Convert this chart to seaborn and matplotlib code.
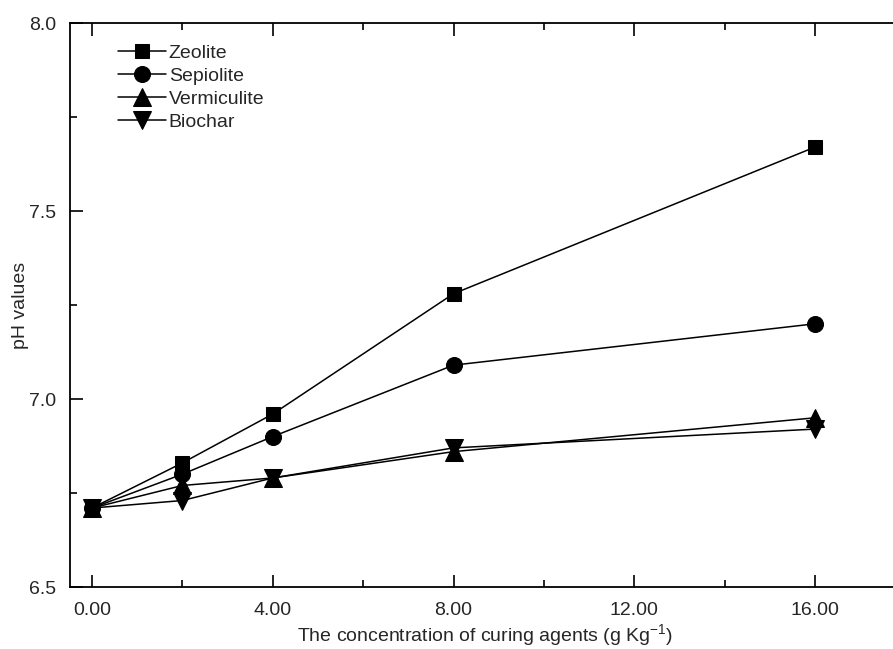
import matplotlib
matplotlib.use("Agg")
import matplotlib.pyplot as plt
import seaborn as sns
import pandas as pd
from matplotlib.ticker import MultipleLocator, FixedLocator

concentration = [0, 2, 4, 8, 16]
zeolite = [6.71, 6.83, 6.96, 7.28, 7.67]
sepiolite = [6.71, 6.80, 6.90, 7.09, 7.20]
vermiculite = [6.71, 6.77, 6.79, 6.86, 6.95]
biochar = [6.71, 6.73, 6.79, 6.87, 6.92]
series_names = ["Zeolite", "Sepiolite", "Vermiculite", "Biochar"]
x_ticks = [0, 4, 8, 12, 16]
x_tick_labels = ["0.00", "4.00", "8.00", "12.00", "16.00"]

sns.set_theme(style="ticks")
plt.rcParams["font.family"] = ["Liberation Sans", "DejaVu Sans"]
plt.rcParams["mathtext.fontset"] = "custom"
plt.rcParams["mathtext.rm"] = "Liberation Sans"

frames = []
for name, vals in zip(series_names, [zeolite, sepiolite, vermiculite, biochar]):
    frames.append(pd.DataFrame({"x": concentration, "y": vals, "agent": name}))
df = pd.concat(frames, ignore_index=True)

W, H = 893, 649
fig = plt.figure(figsize=(W / 100, H / 100), dpi=100)
left_px, right_px, top_px, bottom_px = 70, 900, 23, 587
ax = fig.add_axes([left_px / W, 1 - bottom_px / H, (right_px - left_px) / W, (bottom_px - top_px) / H])

markers = {"Zeolite": "s", "Sepiolite": "o", "Vermiculite": "^", "Biochar": "v"}
palette = {n: "black" for n in series_names}
sns.lineplot(data=df, x="x", y="y", hue="agent", style="agent", markers=markers,
             dashes=False, palette=palette, ax=ax, linewidth=1.1, markersize=10,
             markeredgecolor="black", legend=True)

msize = {"s": 10.5, "o": 11.5, "^": 12.5, "v": 12.5}
for i, ln in enumerate(ax.lines):
    m = ln.get_marker()
    if m in msize:
        ln.set_markersize(msize[m])
    ln.set_zorder(3 + i)

ppu = (815 - 92) / 16
ax.set_xlim((left_px - 92) / ppu, (right_px - 92) / ppu)
ax.set_ylim(6.5, 8.0)

ax.xaxis.set_major_locator(FixedLocator(x_ticks))
ax.set_xticklabels(x_tick_labels)
ax.xaxis.set_minor_locator(FixedLocator([2, 6, 10, 14]))
ax.yaxis.set_major_locator(MultipleLocator(0.5))
ax.yaxis.set_minor_locator(MultipleLocator(0.25))
ax.yaxis.set_major_formatter(matplotlib.ticker.FormatStrFormatter("%.1f"))

ax.tick_params(which="both", direction="in", top=True, right=False, labelsize=14, color="black", width=1.2)
ax.tick_params(which="major", length=9)
ax.tick_params(which="minor", length=5)
ax.tick_params(axis="x", pad=11)
ax.tick_params(axis="y", pad=10)
for s in ["left", "bottom", "top"]:
    ax.spines[s].set_linewidth(1.3)
    ax.spines[s].set_color("black")
ax.spines["right"].set_visible(False)

ax.set_xlabel("The concentration of curing agents (g Kg$^{\\mathregular{-1}}$)", fontsize=14, labelpad=2)
ax.set_ylabel("pH values", fontsize=14, labelpad=0)

leg = ax.legend(loc="upper left", bbox_to_anchor=(0.058, 0.962), frameon=False, fontsize=14,
                handlelength=2.45, handletextpad=0.15, labelspacing=0.27, borderpad=0,
                borderaxespad=0)
for h in leg.legend_handles:
    m = h.get_marker()
    if m in msize:
        h.set_markersize(msize[m])

fig.savefig("out.png", dpi=100)
